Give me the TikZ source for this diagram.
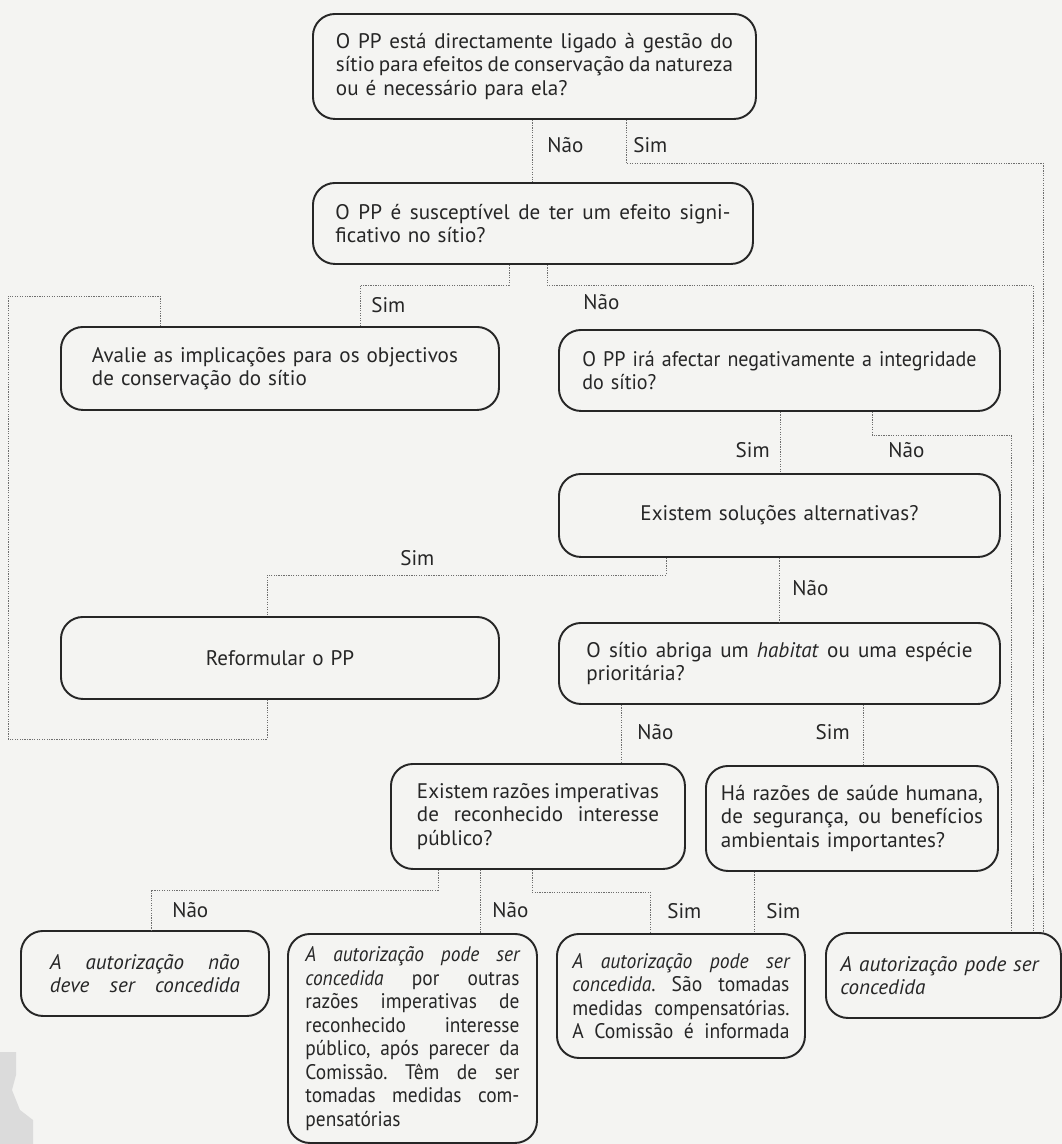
\documentclass[tikz,border=0pt]{standalone}
\usepackage{fontspec}
\setmainfont{PT Sans}
\newdimen\px \px=0.02cm
\newcommand{\ns}{\spaceskip=0pt\xspaceskip=0pt\frenchspacing}
\newcommand{\jl}[1]{\makebox[\hsize][s]{\ns #1}}
\newcommand{\nl}[1]{\mbox{#1}}
\definecolor{bgcol}{HTML}{F4F4F2}
\definecolor{txt}{HTML}{262626}
\definecolor{dots}{HTML}{6E6E6E}
\begin{document}
\begin{tikzpicture}[x=0.02cm,y=-0.02cm,
  box/.style={draw=txt, line width=1.1pt, rounded corners=0.44cm, anchor=north west,
    inner xsep=0pt, inner ysep=0pt, text=txt, align=left,
    font=\fontsize{12}{13.4}\selectfont},
  squeeze/.style={font=\fontsize{12}{13.4}\selectfont\addfontfeatures{FakeStretch=#1}},
  conn/.style={draw=dots, line width=0.55pt, dash pattern=on 0.7pt off 0.7pt},
  lab/.style={anchor=west, inner sep=0pt, text=txt, font=\fontsize{12}{13.4}\selectfont}]
\fill[bgcol] (0,0) rectangle (1062,1144);
\useasboundingbox (0,0) rectangle (1062,1144);
\fill[gray!28] (0,1052) -- (16,1052) -- (16,1075) -- (12,1090) -- (20,1110) -- (33,1120) -- (33,1144) -- (0,1144) -- cycle;

% boxes
\node[box, minimum width=443\px, minimum height=105\px, text width=397\px] (b1) at (312,13)
  {\jl{O PP está directamente ligado à gestão do}\\\jl{sítio para efeitos de conservação da natureza}\\ou é necessário para ela?};
\node[box, minimum width=440\px, minimum height=81\px, text width=395\px] (b2) at (312,182)
  {\jl{O PP é susceptível de ter um efeito signi-}\\ficativo no sítio?};
\node[box, minimum width=438\px, minimum height=83\px, text width=376\px] (av) at (60,326)
  {\nl{Avalie as implicações para os objectivos}\\de conservação do sítio};
\node[box, squeeze=0.95, minimum width=441\px, minimum height=81\px, text width=394\px] (b3) at (558,329)
  {\jl{O PP irá afectar negativamente a integridade}\\do sítio?};
\node[box, minimum width=441\px, minimum height=83\px, text width=394\px, align=center] (b4) at (558,473)
  {Existem soluções alternativas?};
\node[box, minimum width=438\px, minimum height=82\px, text width=376\px, align=center] (rf) at (60,616)
  {Reformular o PP};
\node[box, minimum width=441\px, minimum height=81\px, text width=386\px] (b5) at (558,622)
  {\jl{O sítio abriga um \emph{habitat} ou uma espécie}\\prioritária?};
\node[box, minimum width=294\px, minimum height=105\px, text width=242\px] (b6) at (390,763)
  {\jl{Existem razões imperativas}\\\jl{de reconhecido interesse}\\público?};
\node[box, minimum width=292\px, minimum height=105\px, text width=262\px] (b7) at (705,765)
  {\jl{Há razões de saúde humana,}\\\jl{de segurança, ou benefícios}\\ambientais importantes?};
\node[box, minimum width=248\px, minimum height=85\px, text width=190\px] (b8) at (20,930)
  {\jl{\itshape A autorização não}\\\jl{\itshape deve ser concedida}};
\node[box, squeeze=0.92, minimum width=249\px, minimum height=209\px, text width=214\px] (b11) at (287,933)
  {\jl{\itshape A autorização pode ser}\\\jl{\emph{concedida} por outras}\\\jl{razões imperativas de}\\\jl{reconhecido interesse}\\\jl{público, após parecer da}\\\jl{Comissão. Têm de ser}\\\jl{tomadas medidas com-}\\pensatórias};
\node[box, squeeze=0.93, minimum width=248\px, minimum height=124\px, text width=217\px] (b9) at (556,933)
  {\jl{\itshape A autorização pode ser}\\\jl{\emph{concedida}. São tomadas}\\\jl{medidas compensatórias.}\\\jl{A Comissão é informada}};
\node[box, minimum width=235\px, minimum height=85\px, text width=206\px] (b10) at (825,932)
  {\nl{\itshape A autorização pode ser}\\\itshape concedida};

% connectors
\draw[conn] (b1.south -| 532,0) -- (b2.north -| 532,0);
\draw[conn] (b1.south -| 626,0) -- (626,163) -- (1043,163) -- (b10.north -| 1043,0);
\draw[conn] (b2.south -| 509,0) -- (509,285) -- (360,285) -- (av.north -| 360,0);
\draw[conn] (b2.south -| 547,0) -- (547,285) -- (1033,285) -- (b10.north -| 1033,0);
\draw[conn] (rf.south -| 267,0) -- (267,739) -- (8,739) -- (8,296) -- (160,296) -- (av.north -| 160,0);
\draw[conn] (b3.south -| 780,0) -- (b4.north -| 780,0);
\draw[conn] (b3.south -| 872,0) -- (872,435) -- (1011,435) -- (b10.north -| 1011,0);
\draw[conn] (b4.south -| 666,0) -- (666,575) -- (267,575) -- (rf.north -| 267,0);
\draw[conn] (b4.south -| 779,0) -- (b5.north -| 779,0);
\draw[conn] (b5.south -| 621,0) -- (b6.north -| 621,0);
\draw[conn] (b5.south -| 863,0) -- (b7.north -| 863,0);
\draw[conn] (b6.south -| 438,0) -- (438,890) -- (151,890) -- (b8.north -| 151,0);
\draw[conn] (b6.south -| 480,0) -- (b11.north -| 480,0);
\draw[conn] (b6.south -| 532,0) -- (532,892) -- (650,892) -- (b9.north -| 650,0);
\draw[conn] (b7.south -| 754,0) -- (b9.north -| 754,0);

% labels
\node[lab] (l1) at (547,145) {Não};
\node[lab] (l2) at (633,145) {Sim};
\node[lab] (l3) at (371,305) {Sim};
\node[lab] (l4) at (583,302) {Não};
\node[lab, anchor=east] (l5) at (770,450) {Sim};
\node[lab] (l6) at (888,450) {Não};
\node[lab] (l7) at (400,558) {Sim};
\node[lab] (l8) at (792,588) {Não};
\node[lab] (l9) at (637,732) {Não};
\node[lab, anchor=east] (l10) at (850,732) {Sim};
\node[lab] (l11) at (172,910) {Não};
\node[lab] (l12) at (492,910) {Não};
\node[lab] (l13) at (667,911) {Sim};
\node[lab] (l14) at (766,911) {Sim};
\end{tikzpicture}
\end{document}
